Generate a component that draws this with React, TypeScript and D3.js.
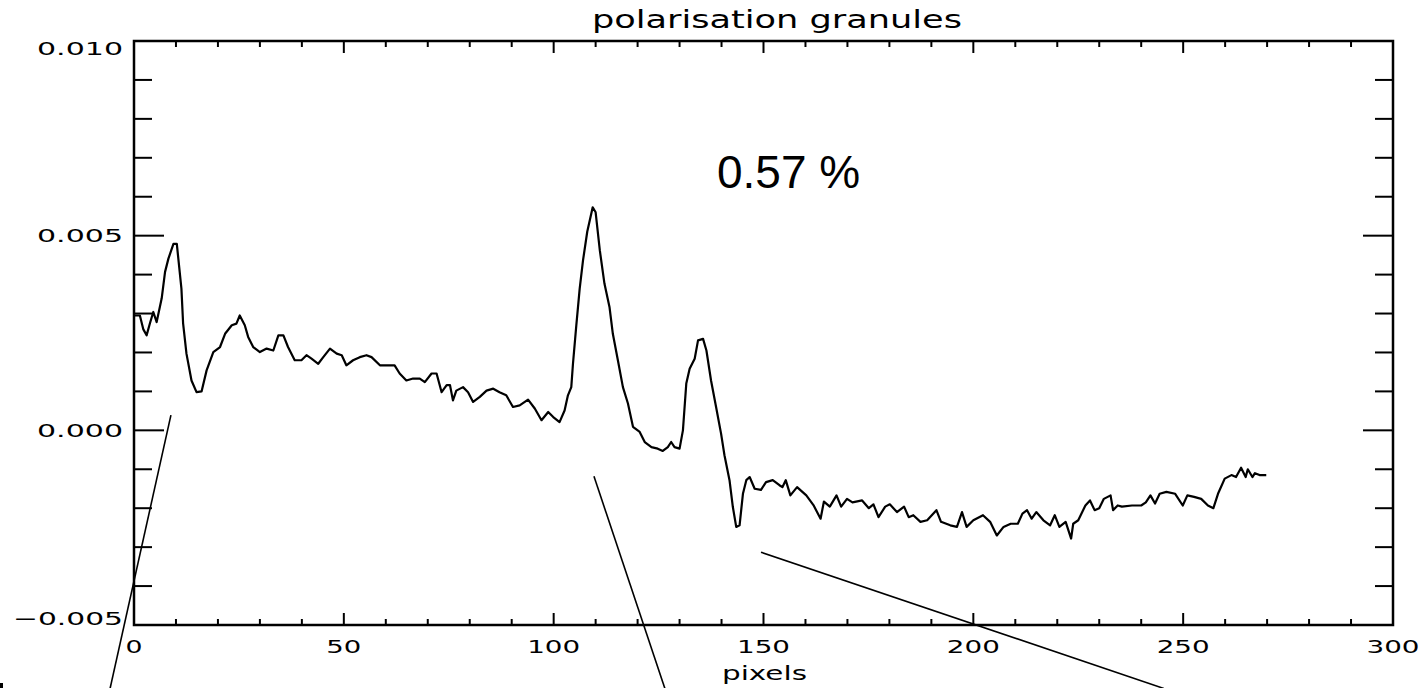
import * as d3 from 'd3';
import { useEffect, useRef } from 'react';

// pixel index along the cut
const pixels = [
  0, 1.4, 2.2, 3, 3.8, 4.6, 5.4, 6.6, 7.4, 8.2, 9.4, 10.2, 11.3, 11.7, 12.5, 13.7, 14.9, 16.1, 17.3, 18.9,
  20.5, 21.7, 23.3, 24.4, 25.2, 26.4, 27.2, 28.4, 30, 31.6, 33.2, 34.4, 35.6, 36.7, 38.3, 39.9, 41.1, 42.3, 43.9, 45.1,
  46.7, 48.3, 49.5, 50.6, 52.2, 53.8, 55.4, 56.6, 58.6, 60.2, 62.1, 63.3, 64.9, 66.5, 68.1, 69.3, 70.9, 72.1, 73.3, 74.5,
  75.3, 76.0, 76.8, 78.4, 79.6, 80.8, 82.4, 84.0, 85.6, 87.1, 88.7, 90.3, 91.9, 93.9, 95.5, 97.1, 98.7, 99.9, 101.4, 102.6,
  103.4, 104.2, 104.6, 105.4, 106.2, 107, 108, 109.3, 110, 111, 112.1, 113.3, 114.1, 115.3, 116.5, 117.7, 118.9, 120.5, 121.7, 123.3,
  124.8, 126, 127.2, 128, 128.8, 130, 130.8, 131.6, 132.4, 133.6, 134.4, 135.6, 136.4, 137.5, 138.7, 139.9, 140.7, 141.9, 142.7, 143.5,
  144.3, 145.1, 145.9, 146.7, 147.9, 149.4, 150.6, 152.2, 153.8, 154.5, 155.3, 156.4, 158, 160.2, 161.9, 163.6, 164.4, 165.8, 167.4, 168.5,
  169.9, 171.2, 173.5, 175.1, 176.2, 177.4, 179, 180.1, 181.8, 183.5, 184.6, 185.7, 187.4, 189, 191.2, 192.3, 194.5, 196.1, 197.3, 198.4,
  200, 202.3, 204, 205.6, 207.2, 208.9, 210.6, 211.7, 212.8, 213.9, 215, 216.7, 218.3, 219.4, 220.5, 222, 223.3, 223.8, 225, 226.7,
  227.8, 228.9, 230, 231.1, 232.7, 233.3, 234.4, 235.4, 237.8, 240, 241.1, 242.2, 243.3, 244.4, 246, 248.1, 249.9, 251, 252.6, 254.3,
  255.9, 257.2, 258.3, 259.9, 261.5, 262.6, 263.8, 264.9, 265.4, 266.5, 267.1, 268.2, 269.8,
];

// polarisation signal, in units of 1e-3
const signal = [
  2.95, 2.95, 2.6, 2.44, 2.75, 3.04, 2.78, 3.39, 4.07, 4.41, 4.79, 4.79, 3.64, 2.75, 1.97, 1.28, 0.98, 1.0, 1.54, 2.01,
  2.14, 2.48, 2.7, 2.74, 2.95, 2.7, 2.4, 2.14, 2.01, 2.1, 2.05, 2.44, 2.44, 2.14, 1.8, 1.8, 1.93, 1.84, 1.71, 1.88,
  2.1, 1.97, 1.93, 1.67, 1.8, 1.88, 1.93, 1.88, 1.67, 1.67, 1.67, 1.46, 1.28, 1.33, 1.33, 1.24, 1.46, 1.46, 0.98, 1.16,
  1.16, 0.77, 1.02, 1.11, 0.98, 0.73, 0.86, 1.02, 1.07, 0.98, 0.9, 0.6, 0.64, 0.79, 0.56, 0.26, 0.47, 0.34, 0.21, 0.51,
  0.9, 1.11, 1.71, 2.7, 3.64, 4.37, 5.1, 5.73, 5.6, 4.62, 3.77, 3.17, 2.48, 1.8, 1.11, 0.69, 0.09, -0.04, -0.3, -0.43,
  -0.47, -0.53, -0.43, -0.3, -0.43, -0.47, 0, 1.2, 1.58, 1.84, 2.31, 2.35, 2.05, 1.28, 0.6, -0.09, -0.64, -1.28, -1.97, -2.48,
  -2.44, -1.63, -1.28, -1.2, -1.5, -1.53, -1.33, -1.28, -1.41, -1.46, -1.28, -1.67, -1.46, -1.67, -1.92, -2.27, -1.83, -1.96, -1.67, -1.96,
  -1.76, -1.85, -1.8, -2.0, -1.9, -2.23, -1.96, -1.9, -2.1, -1.96, -2.23, -2.18, -2.35, -2.31, -2.05, -2.35, -2.44, -2.48, -2.1, -2.48,
  -2.31, -2.18, -2.35, -2.7, -2.48, -2.4, -2.4, -2.14, -2.05, -2.27, -2.1, -2.31, -2.44, -2.18, -2.48, -2.35, -2.78, -2.4, -2.31, -1.93,
  -1.8, -2.05, -2.0, -1.76, -1.67, -2.05, -1.93, -1.96, -1.93, -1.93, -1.85, -1.67, -1.88, -1.63, -1.58, -1.63, -1.93, -1.67, -1.71, -1.76,
  -1.93, -2.0, -1.63, -1.24, -1.15, -1.2, -0.96, -1.2, -1.0, -1.2, -1.1, -1.15, -1.15,
];

const xTickValues = [0, 50, 100, 150, 200, 250, 300];
const xTickLabels = ['0', '50', '100', '150', '200', '250', '300'];
const yTickValues = [0.01, 0.005, 0, -0.005];
const yTickLabels = ['0.010', '0.005', '0.000', '\u22120.005'];

const title = 'polarisation granules';
const xTitle = 'pixels';
const note = '0.57 %';

// pointer lines drawn over the plot, in data units (pixels, 1e-3)
const pointerFrom = [[8.8, 0.39], [109.6, -1.18], [149.4, -3.13]];
const pointerTo = [[-5.7, -6.63], [126.5, -6.63], [245.4, -6.63]];

const W = 1428;
const H = 688;
const left = 134, right = 1393, top = 41, bottom = 625;

const App = () => {
  const svgRef = useRef<SVGSVGElement>(null);

  useEffect(() => {
    const svg = d3.select(svgRef.current);
    svg.selectAll('*').remove();

    const x = d3.scaleLinear().domain([0, 300]).range([left, right]);
    const y = d3.scaleLinear().domain([-0.005, 0.01]).range([bottom, top]);
    const hershey = "'DejaVu Sans', sans-serif";

    // frame
    svg.append('rect')
      .attr('x', left).attr('y', top)
      .attr('width', right - left).attr('height', bottom - top)
      .attr('fill', 'none').attr('stroke', '#000').attr('stroke-width', 2.5);

    // x ticks (bottom + mirrored top)
    const xt = x.ticks(30);
    xt.forEach(v => {
      const len = v % 50 === 0 ? 12 : 6;
      svg.append('line').attr('x1', x(v)).attr('x2', x(v)).attr('y1', bottom).attr('y2', bottom - len)
        .attr('stroke', '#000').attr('stroke-width', 2);
      svg.append('line').attr('x1', x(v)).attr('x2', x(v)).attr('y1', top).attr('y2', top + len)
        .attr('stroke', '#000').attr('stroke-width', 2);
    });

    // y ticks (left + mirrored right)
    const yt = d3.range(-5, 11).map(k => k / 1000);
    yt.forEach((v, i) => {
      const len = (i % 5 === 0) ? 30 : 18;
      svg.append('line').attr('x1', left).attr('x2', left + len).attr('y1', y(v)).attr('y2', y(v))
        .attr('stroke', '#000').attr('stroke-width', 2);
      svg.append('line').attr('x1', right).attr('x2', right - len).attr('y1', y(v)).attr('y2', y(v))
        .attr('stroke', '#000').attr('stroke-width', 2);
    });

    // tick labels
    svg.selectAll('text.xlab')
      .data(xTickValues)
      .enter()
      .append('text')
      .attr('class', 'xlab')
      .attr('x', (d, i) => x(d) - (xTickLabels[i].length * 18 - 1) / 2)
      .attr('y', 653)
      .attr('font-family', hershey)
      .attr('font-size', 18)
      .attr('textLength', (d, i) => xTickLabels[i].length * 18 - 1)
      .attr('lengthAdjust', 'spacingAndGlyphs')
      .text((d, i) => xTickLabels[i]);

    svg.selectAll('text.ylab')
      .data(yTickValues)
      .enter()
      .append('text')
      .attr('class', 'ylab')
      .attr('x', (d, i) => 123 - (yTickLabels[i].length === 5 ? 86 : 110))
      .attr('y', d => Math.min(bottom, Math.max(top + 14, y(d) + 6.5)))
      .attr('font-family', hershey)
      .attr('font-size', 18)
      .attr('textLength', (d, i) => yTickLabels[i].length === 5 ? 86 : 110)
      .attr('lengthAdjust', 'spacingAndGlyphs')
      .text((d, i) => yTickLabels[i]);

    // titles
    svg.append('text')
      .attr('x', 592).attr('y', 28)
      .attr('font-family', hershey).attr('font-size', 24)
      .attr('textLength', 370).attr('lengthAdjust', 'spacingAndGlyphs')
      .text(title);

    svg.append('text')
      .attr('x', 722).attr('y', 680)
      .attr('font-family', hershey).attr('font-size', 19)
      .attr('textLength', 85).attr('lengthAdjust', 'spacingAndGlyphs')
      .text(xTitle);

    // data curve
    const line = d3.line<number>()
      .x((d, i) => x(pixels[i]))
      .y(d => y(d * 1e-3));
    svg.append('path')
      .datum(signal)
      .attr('d', line)
      .attr('fill', 'none')
      .attr('stroke', '#000')
      .attr('stroke-width', 2.2)
      .attr('stroke-linejoin', 'round');

    // annotation
    svg.append('text')
      .attr('x', 717).attr('y', 188)
      .attr('font-family', "'Liberation Sans', Arial, sans-serif")
      .attr('font-size', 46)
      .text(note);

    svg.selectAll('line.pointer')
      .data(pointerFrom)
      .enter()
      .append('line')
      .attr('class', 'pointer')
      .attr('x1', d => x(d[0]))
      .attr('y1', d => y(d[1] * 1e-3))
      .attr('x2', (d, i) => x(pointerTo[i][0]))
      .attr('y2', (d, i) => y(pointerTo[i][1] * 1e-3))
      .attr('stroke', '#000')
      .attr('stroke-width', 1.6);

    // stray mark at the lower-left corner of the original figure
    svg.append('rect').attr('x', 0).attr('y', 683).attr('width', 3).attr('height', 5).attr('fill', '#000');

    return () => {
      svg.selectAll('*').remove();
    };
  }, []);

  return (
    <svg ref={svgRef} width={W} height={H}
      style={{ position: 'absolute', left: 0, top: 0, background: '#fff' }} />
  );
};

export default App;
